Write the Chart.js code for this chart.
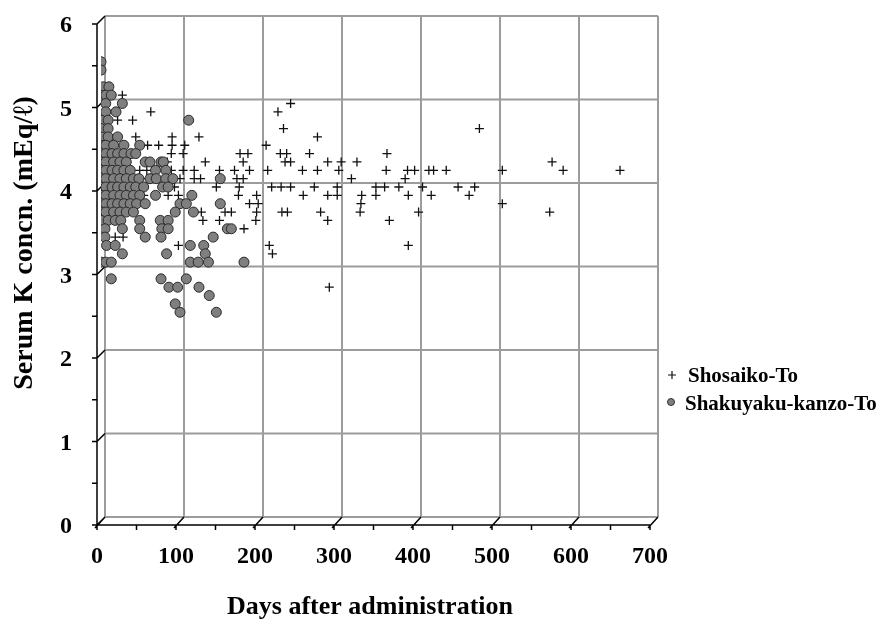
<!DOCTYPE html>
<html>
<head>
<meta charset="utf-8">
<script src="https://cdn.jsdelivr.net/npm/chart.js@4.4.1/dist/chart.umd.min.js"></script>
<style>
  html, body { margin: 0; padding: 0; background: #fff; }
</style>
</head>
<body>
<canvas id="serumChart" width="878" height="619"></canvas>
<script>
// Axis ranges and tick steps
const xTicks = [0, 100, 200, 300, 400, 500, 600, 700];
const yTicks = [0, 1, 2, 3, 4, 5, 6];

const seriesNames = ['Shosaiko-To', 'Shakuyaku-kanzo-To'];

// [days after administration, serum K (mEq/l)]
const shosaikoPoints = [
    [27, 5.1],
    [240, 5.0],
    [63, 4.9], [224, 4.9],
    [21, 4.8], [40, 4.8],
    [231, 4.7], [479, 4.7],
    [44, 4.6], [90, 4.6], [124, 4.6], [274, 4.6],
    [59, 4.5], [73, 4.5], [90, 4.5], [106, 4.5], [209, 4.5],
    [89, 4.4], [104, 4.4], [176, 4.4], [186, 4.4], [227, 4.4], [235, 4.4], [264, 4.4], [362, 4.4],
    [84, 4.3], [132, 4.3], [180, 4.3], [233, 4.3], [240, 4.3], [287, 4.3], [304, 4.3], [324, 4.3], [571, 4.3],
    [49, 4.2], [58, 4.2], [89, 4.2], [104, 4.2], [118, 4.2], [150, 4.2], [169, 4.2], [188, 4.2], [211, 4.2],
    [255, 4.2], [274, 4.2], [301, 4.2], [361, 4.2], [388, 4.2], [397, 4.2], [415, 4.2], [421, 4.2],
    [437, 4.2], [508, 4.2], [585, 4.2], [657, 4.2],
    [58, 4.1], [66, 4.1], [90, 4.1], [100, 4.1], [118, 4.1], [126, 4.1], [172, 4.1], [180, 4.1], [317, 4.1], [385, 4.1],
    [93, 4.0], [146, 4.0], [175, 4.0], [216, 4.0], [228, 4.0], [240, 4.0], [270, 4.0], [299, 4.0],
    [348, 4.0], [359, 4.0], [377, 4.0], [407, 4.0], [452, 4.0], [473, 4.0],
    [54, 3.9], [85, 3.9], [98, 3.9], [174, 3.9], [197, 3.9], [256, 3.9], [287, 3.9], [299, 3.9],
    [330, 3.9], [348, 3.9], [389, 3.9], [418, 3.9], [466, 3.9],
    [188, 3.8], [199, 3.8], [329, 3.8], [508, 3.8],
    [127, 3.7], [157, 3.7], [165, 3.7], [197, 3.7], [229, 3.7], [236, 3.7], [278, 3.7], [328, 3.7], [402, 3.7], [568, 3.7],
    [129, 3.6], [150, 3.6], [196, 3.6], [287, 3.6], [365, 3.6],
    [181, 3.5],
    [18, 3.4], [28, 3.4],
    [98, 3.3], [213, 3.3], [389, 3.3],
    [217, 3.2],
    [289, 2.8]
];

const shakuyakuPoints = [
    [0, 5.5],
    [0, 5.4],
    [3, 5.2], [10, 5.2],
    [0, 5.1], [6, 5.1], [13, 5.1],
    [6, 5.0], [27, 5.0],
    [6, 4.9], [19, 4.9],
    [0, 4.8], [9, 4.8], [111, 4.8],
    [0, 4.7], [9, 4.7],
    [0, 4.6], [9, 4.6], [21, 4.6],
    [0, 4.5], [6, 4.5], [16, 4.5], [29, 4.5], [49, 4.5],
    [0, 4.4], [6, 4.4], [14, 4.4], [21, 4.4], [29, 4.4], [38, 4.4], [44, 4.4],
    [0, 4.3], [6, 4.3], [16, 4.3], [24, 4.3], [32, 4.3], [56, 4.3], [62, 4.3], [76, 4.3], [79, 4.3],
    [0, 4.2], [6, 4.2], [14, 4.2], [21, 4.2], [29, 4.2], [37, 4.2], [69, 4.2], [82, 4.2],
    [0, 4.1], [6, 4.1], [16, 4.1], [24, 4.1], [32, 4.1], [41, 4.1], [48, 4.1], [62, 4.1], [70, 4.1], [82, 4.1], [91, 4.1], [151, 4.1],
    [0, 4.0], [6, 4.0], [14, 4.0], [21, 4.0], [29, 4.0], [37, 4.0], [44, 4.0], [54, 4.0], [78, 4.0], [85, 4.0],
    [0, 3.9], [6, 3.9], [16, 3.9], [24, 3.9], [32, 3.9], [41, 3.9], [49, 3.9], [69, 3.9], [115, 3.9],
    [0, 3.8], [6, 3.8], [14, 3.8], [21, 3.8], [29, 3.8], [37, 3.8], [45, 3.8], [56, 3.8], [100, 3.8], [108, 3.8], [151, 3.8],
    [0, 3.7], [6, 3.7], [16, 3.7], [24, 3.7], [32, 3.7], [41, 3.7], [94, 3.7], [117, 3.7],
    [0, 3.6], [9, 3.6], [18, 3.6], [25, 3.6], [49, 3.6], [75, 3.6], [85, 3.6],
    [5, 3.5], [27, 3.5], [49, 3.5], [77, 3.5], [85, 3.5], [160, 3.5], [165, 3.5],
    [5, 3.4], [56, 3.4], [76, 3.4], [142, 3.4],
    [7, 3.3], [18, 3.3], [113, 3.3], [130, 3.3],
    [27, 3.2], [83, 3.2], [132, 3.2],
    [0, 3.1], [6, 3.1], [13, 3.1], [113, 3.1], [123, 3.1], [136, 3.1], [181, 3.1],
    [13, 2.9], [76, 2.9], [108, 2.9],
    [86, 2.8], [97, 2.8], [124, 2.8],
    [137, 2.7],
    [94, 2.6],
    [100, 2.5], [146, 2.5]
];

const FONT = "'Liberation Serif', 'Times New Roman', serif";
const DEPTH = 4; // half of the wall offset, data sit on the middle plane

// Pseudo-3D box: back wall grid, floor and front axes with slanted ticks
const boxFrame = {
    id: 'boxFrame',
    beforeDatasetsDraw(chart) {
        const { ctx, scales: { x, y } } = chart;
        const d = DEPTH;
        const x0 = x.getPixelForValue(0), x1 = x.getPixelForValue(700);
        const y0 = y.getPixelForValue(0), y1 = y.getPixelForValue(6);
        ctx.save();

        // back wall
        ctx.strokeStyle = '#9c9c9c';
        ctx.lineWidth = 2;
        ctx.beginPath();
        xTicks.forEach(v => {
            const px = x.getPixelForValue(v) + d;
            ctx.moveTo(px, y1 - d);
            ctx.lineTo(px, y0 - d);
        });
        yTicks.forEach(v => {
            const py = y.getPixelForValue(v) - d;
            ctx.moveTo(x0 + d, py);
            ctx.lineTo(x1 + d, py);
        });
        ctx.stroke();

        // front axes
        ctx.strokeStyle = '#000';
        ctx.lineWidth = 1.5;
        ctx.beginPath();
        ctx.moveTo(x0 - d, y1 + d);
        ctx.lineTo(x0 - d, y0 + d);
        ctx.lineTo(x1 - d, y0 + d);

        // y ticks: minor every 0.5, slanted connector at each integer
        for (let v = 0; v <= 6; v += 0.5) {
            const py = y.getPixelForValue(v) + d;
            ctx.moveTo(x0 - d - 5, py);
            ctx.lineTo(x0 - d, py);
            if (Number.isInteger(v)) {
                ctx.moveTo(x0 - d, py);
                ctx.lineTo(x0 + d, py - 2 * d);
            }
        }
        // x ticks: minor every 50, slanted connector at each hundred
        for (let v = 0; v <= 700; v += 50) {
            const px = x.getPixelForValue(v) - d;
            ctx.moveTo(px, y0 + d);
            ctx.lineTo(px, y0 + d + 5);
            if (v % 100 === 0) {
                ctx.moveTo(px - 2, y0 + d + 3);
                ctx.lineTo(px + 2 * d, y0 - d);
            }
        }
        ctx.stroke();
        ctx.restore();
    },
    afterDraw(chart) {
        const { ctx } = chart;
        ctx.save();
        ctx.fillStyle = '#000';

        // axis titles
        ctx.font = `bold 28px ${FONT}`;
        ctx.textAlign = 'center';
        ctx.textBaseline = 'middle';
        ctx.translate(25, 243);
        ctx.rotate(-Math.PI / 2);
        ctx.fillText('Serum K concn. (mEq/ℓ)', 0, 0);
        ctx.setTransform(1, 0, 0, 1, 0, 0);

        ctx.font = `bold 26px ${FONT}`;
        ctx.textBaseline = 'alphabetic';
        ctx.fillText('Days after administration', 370, 614);

        // legend
        ctx.font = `bold 21px ${FONT}`;
        ctx.textAlign = 'left';
        ctx.fillText(seriesNames[0], 688, 382);
        ctx.fillText(seriesNames[1], 685, 410);

        ctx.strokeStyle = '#111';
        ctx.lineWidth = 1.2;
        ctx.beginPath();
        ctx.moveTo(668, 375); ctx.lineTo(676, 375);
        ctx.moveTo(672, 371); ctx.lineTo(672, 379);
        ctx.stroke();

        ctx.beginPath();
        ctx.arc(671, 402, 3.5, 0, Math.PI * 2);
        ctx.fillStyle = '#7f7f7f';
        ctx.fill();
        ctx.strokeStyle = '#333';
        ctx.lineWidth = 1;
        ctx.stroke();
        ctx.restore();
    }
};

const tickFont = { family: FONT, size: 24, weight: 'bold' };

new Chart(document.getElementById('serumChart'), {
    type: 'scatter',
    data: {
        datasets: [
            {
                label: seriesNames[0],
                data: shosaikoPoints.map(([d, k]) => ({ x: d, y: k })),
                pointStyle: 'cross',
                pointRadius: 4.5,
                borderColor: '#111',
                borderWidth: 1.3,
                order: 1
            },
            {
                label: seriesNames[1],
                data: shakuyakuPoints.map(([d, k]) => ({ x: d, y: k })),
                pointStyle: 'circle',
                pointRadius: 5,
                backgroundColor: '#7f7f7f',
                borderColor: '#2a2a2a',
                borderWidth: 1,
                order: 0
            }
        ]
    },
    options: {
        responsive: false,
        animation: false,
        events: [],
        layout: { padding: { top: 20, right: 224, left: 0, bottom: 0 } },
        plugins: {
            legend: { display: false },
            tooltip: { enabled: false }
        },
        scales: {
            x: {
                type: 'linear',
                min: 0,
                max: 700,
                afterFit(scale) {
                    scale.height = 98;
                    scale.paddingLeft = 0;
                    scale.paddingRight = 0;
                },
                grid: { display: false, drawTicks: false },
                border: { display: false },
                ticks: { stepSize: 100, padding: 21, labelOffset: -4, color: '#000', font: tickFont }
            },
            y: {
                min: 0,
                max: 6,
                afterFit(scale) {
                    scale.width = 101;
                    scale.paddingTop = 0;
                    scale.paddingBottom = 0;
                },
                grid: { display: false, drawTicks: false },
                border: { display: false },
                ticks: { stepSize: 1, padding: 29, labelOffset: 6, color: '#000', font: tickFont }
            }
        }
    },
    plugins: [boxFrame]
});
</script>
</body>
</html>
